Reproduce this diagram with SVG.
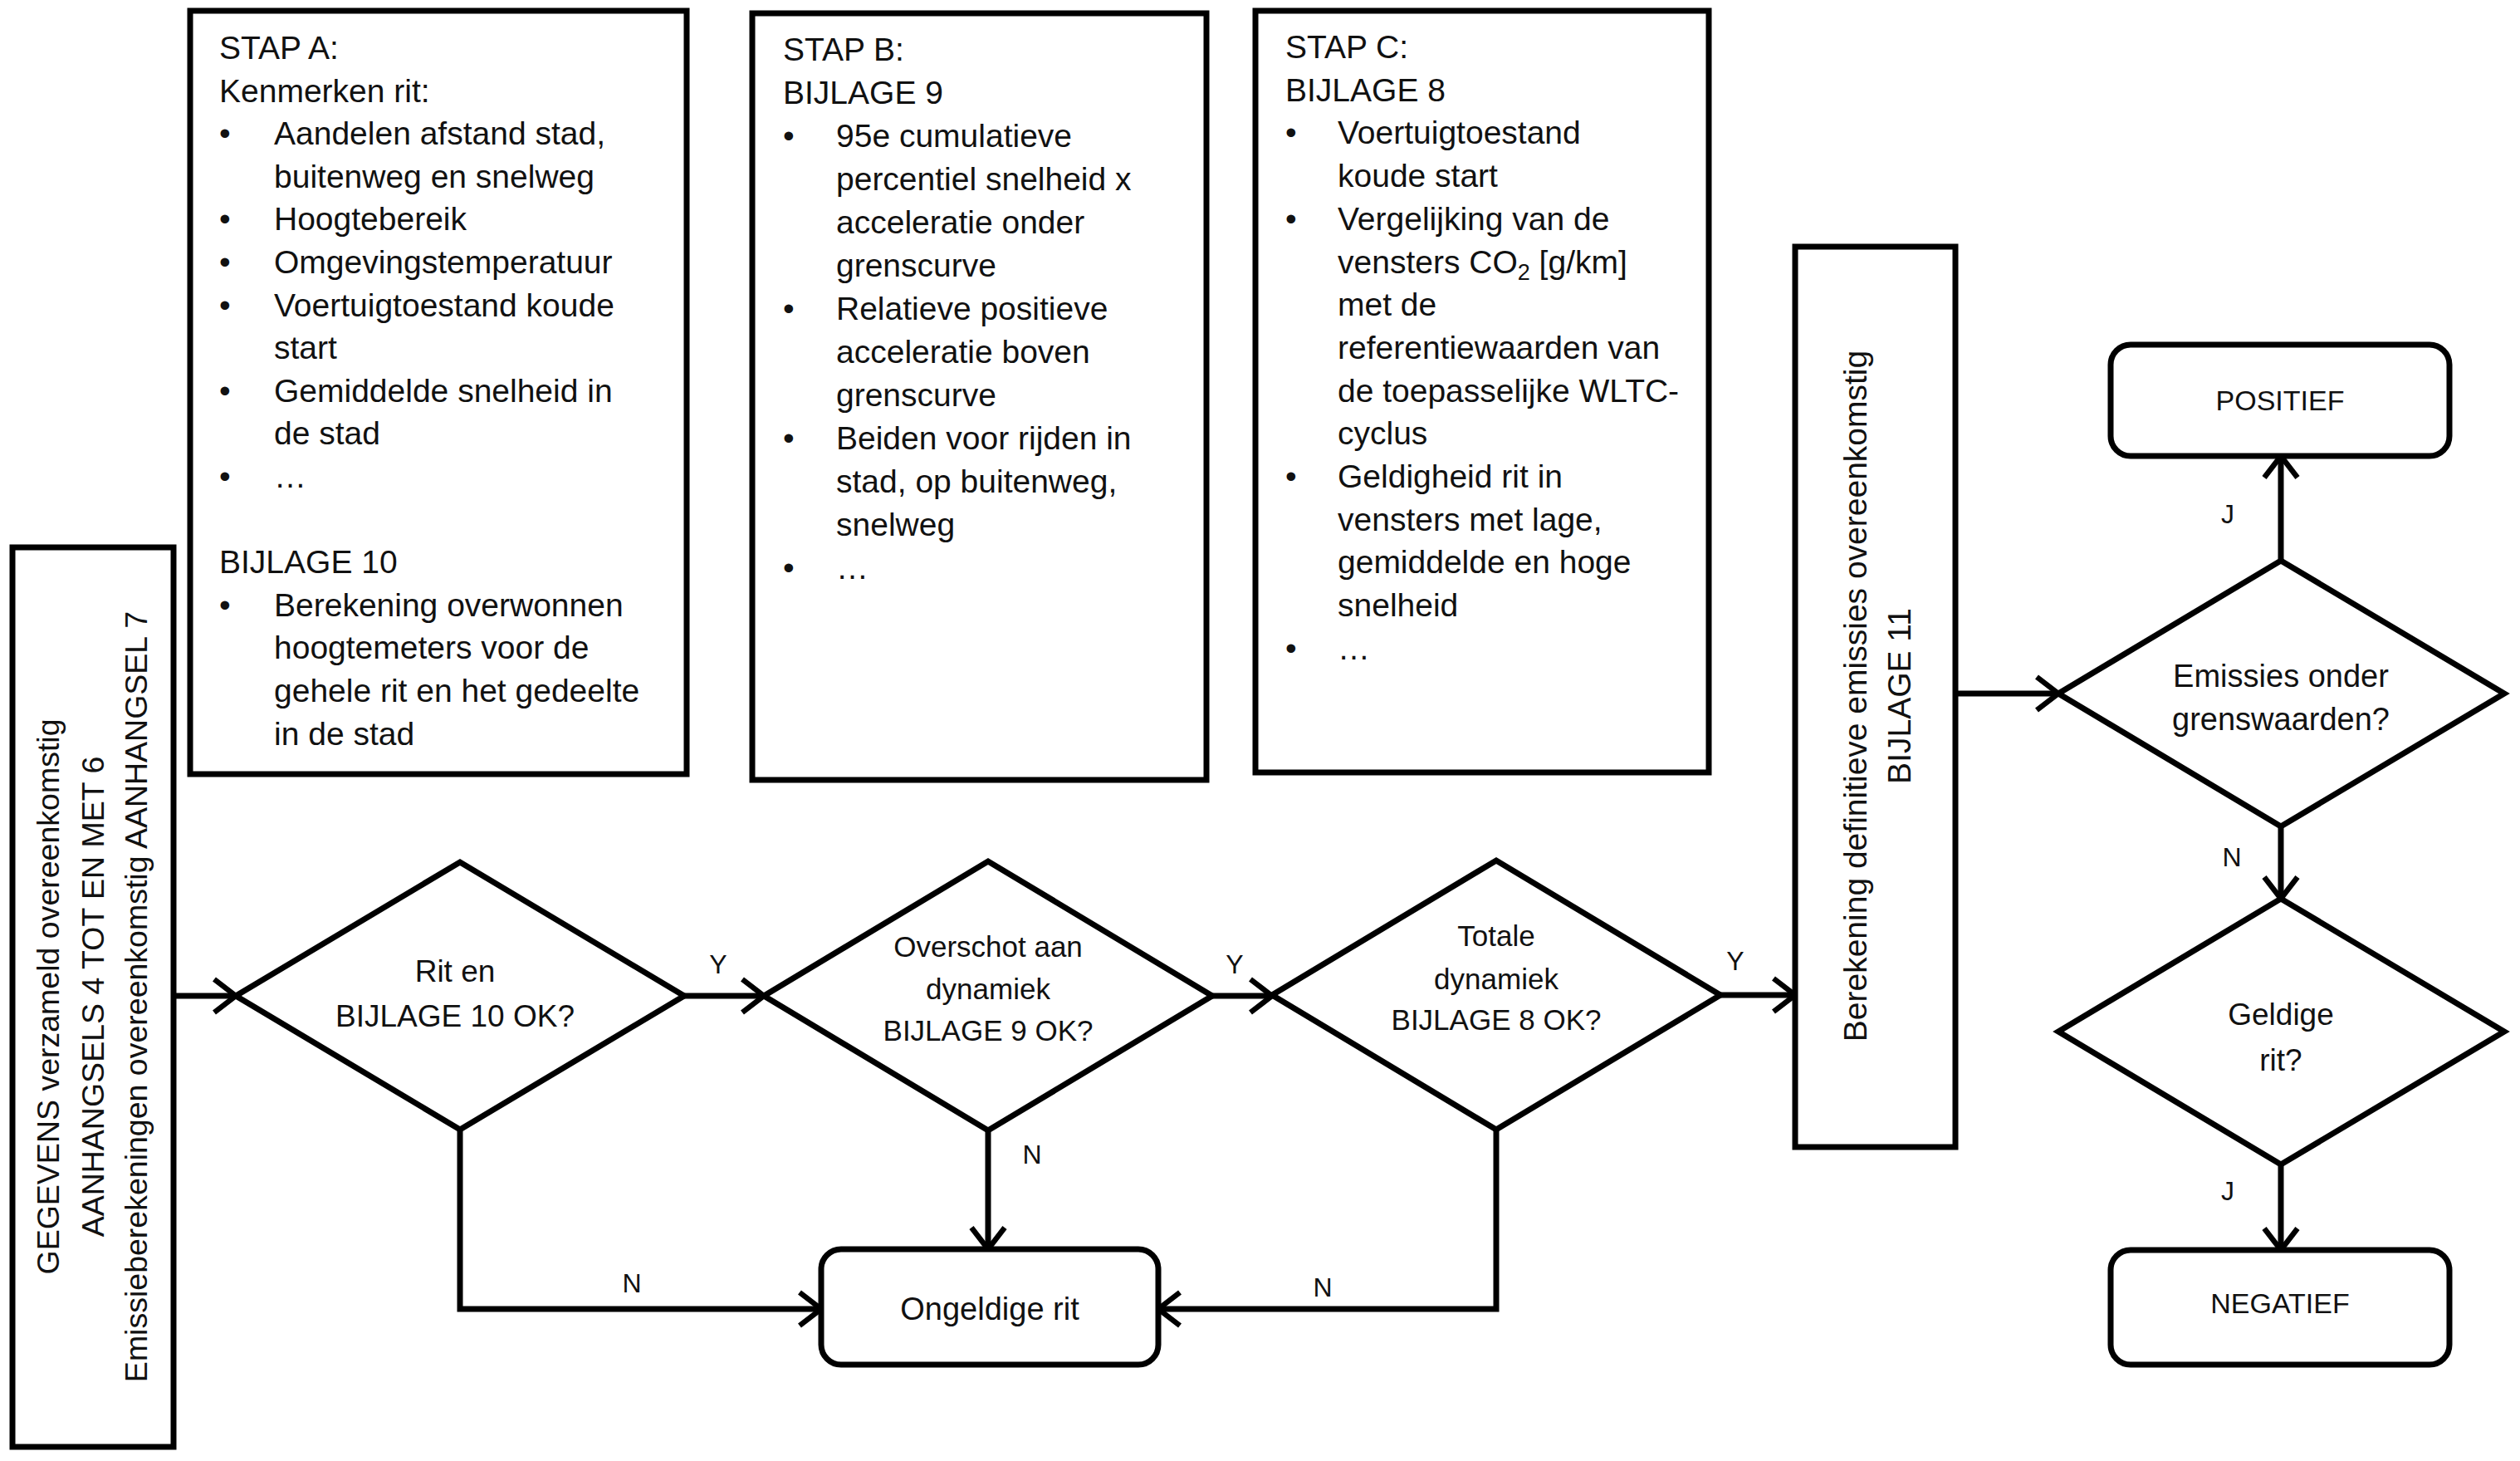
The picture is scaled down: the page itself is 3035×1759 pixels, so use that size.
<svg xmlns="http://www.w3.org/2000/svg" width="3035" height="1759" viewBox="0 0 3035 1759">
<defs>
<style>
.box{fill:#fff;stroke:#000;stroke-width:7}
.rbox{fill:#fff;stroke:#000;stroke-width:7}
.dia{fill:#fff;stroke:#000;stroke-width:7;stroke-linejoin:miter}
.con{fill:none;stroke:#000;stroke-width:7}
.t{font-family:"Liberation Sans",Arial,sans-serif;font-size:39px;fill:#111}
.c{text-anchor:middle}
.lbl{font-family:"Liberation Sans",Arial,sans-serif;font-size:32px;fill:#111;text-anchor:middle}
</style>
<marker id="arr" viewBox="0 0 32 46" refX="29" refY="23" markerWidth="32" markerHeight="46" markerUnits="userSpaceOnUse" orient="auto">
<path d="M3,3 L29,23 L3,43" fill="none" stroke="#000" stroke-width="6.5"/>
</marker>
</defs>
<rect width="3035" height="1759" fill="#fff"/>

<g id="stapA">
<rect class="box" x="229" y="13" width="598" height="919"/>
<text class="t">
<tspan x="264" y="71">STAP A:</tspan>
<tspan x="264" y="122.6">Kenmerken rit:</tspan>
<tspan x="264" y="174.2">•</tspan><tspan x="330" y="174.2">Aandelen afstand stad,</tspan>
<tspan x="330" y="225.8">buitenweg en snelweg</tspan>
<tspan x="264" y="277.4">•</tspan><tspan x="330" y="277.4">Hoogtebereik</tspan>
<tspan x="264" y="329">•</tspan><tspan x="330" y="329">Omgevingstemperatuur</tspan>
<tspan x="264" y="380.6">•</tspan><tspan x="330" y="380.6">Voertuigtoestand koude</tspan>
<tspan x="330" y="432.2">start</tspan>
<tspan x="264" y="483.8">•</tspan><tspan x="330" y="483.8">Gemiddelde snelheid in</tspan>
<tspan x="330" y="535.4">de stad</tspan>
<tspan x="264" y="587">•</tspan><tspan x="330" y="587">…</tspan>
<tspan x="264" y="690.2">BIJLAGE 10</tspan>
<tspan x="264" y="741.8">•</tspan><tspan x="330" y="741.8">Berekening overwonnen</tspan>
<tspan x="330" y="793.4">hoogtemeters voor de</tspan>
<tspan x="330" y="845">gehele rit en het gedeelte</tspan>
<tspan x="330" y="896.6">in de stad</tspan>
</text>
</g>

<g id="stapB">
<rect class="box" x="906" y="16" width="547" height="923"/>
<text class="t">
<tspan x="943" y="73">STAP B:</tspan>
<tspan x="943" y="125">BIJLAGE 9</tspan>
<tspan x="943" y="177">•</tspan><tspan x="1007" y="177">95e cumulatieve</tspan>
<tspan x="1007" y="229">percentiel snelheid x</tspan>
<tspan x="1007" y="281">acceleratie onder</tspan>
<tspan x="1007" y="333">grenscurve</tspan>
<tspan x="943" y="385">•</tspan><tspan x="1007" y="385">Relatieve positieve</tspan>
<tspan x="1007" y="437">acceleratie boven</tspan>
<tspan x="1007" y="489">grenscurve</tspan>
<tspan x="943" y="541">•</tspan><tspan x="1007" y="541">Beiden voor rijden in</tspan>
<tspan x="1007" y="593">stad, op buitenweg,</tspan>
<tspan x="1007" y="645">snelweg</tspan>
<tspan x="943" y="697">•</tspan><tspan x="1007" y="697">…</tspan>
</text>
</g>

<g id="stapC">
<rect class="box" x="1512" y="13" width="546" height="917"/>
<text class="t">
<tspan x="1548" y="70">STAP C:</tspan>
<tspan x="1548" y="121.7">BIJLAGE 8</tspan>
<tspan x="1548" y="173.4">•</tspan><tspan x="1611" y="173.4">Voertuigtoestand</tspan>
<tspan x="1611" y="225.1">koude start</tspan>
<tspan x="1548" y="276.8">•</tspan><tspan x="1611" y="276.8">Vergelijking van de</tspan>
<tspan x="1611" y="328.5">vensters CO<tspan font-size="27" dy="8">2</tspan><tspan dy="-8"> [g/km]</tspan></tspan>
<tspan x="1611" y="380.2">met de</tspan>
<tspan x="1611" y="431.9">referentiewaarden van</tspan>
<tspan x="1611" y="483.6">de toepasselijke WLTC-</tspan>
<tspan x="1611" y="535.3">cyclus</tspan>
<tspan x="1548" y="587">•</tspan><tspan x="1611" y="587">Geldigheid rit in</tspan>
<tspan x="1611" y="638.7">vensters met lage,</tspan>
<tspan x="1611" y="690.4">gemiddelde en hoge</tspan>
<tspan x="1611" y="742.1">snelheid</tspan>
<tspan x="1548" y="793.8">•</tspan><tspan x="1611" y="793.8">…</tspan>
</text>
</g>

<g id="gegevens">
<rect class="box" x="15" y="659" width="194" height="1083"/>
<text class="t c" transform="rotate(-90 71 1200)" x="71" y="1200" style="font-size:37.5px">GEGEVENS verzameld overeenkomstig</text>
<text class="t c" transform="rotate(-90 125 1200)" x="125" y="1200" style="font-size:37.5px">AANHANGSELS 4 TOT EN MET 6</text>
<text class="t c" transform="rotate(-90 177 1200)" x="177" y="1200" style="font-size:37.5px">Emissieberekeningen overeenkomstig AANHANGSEL 7</text>
</g>

<g id="d1">
<polygon class="dia" points="284,1199 554,1038 824,1199 554,1360"/>
<text class="t c" style="font-size:37px"><tspan x="548" y="1182">Rit en</tspan><tspan x="548" y="1236">BIJLAGE 10 OK?</tspan></text>
</g>

<g id="d2">
<polygon class="dia" points="920,1199 1190,1037 1460,1199 1190,1361"/>
<text class="t c" style="font-size:35px"><tspan x="1190" y="1152">Overschot aan</tspan><tspan x="1190" y="1203">dynamiek</tspan><tspan x="1190" y="1253">BIJLAGE 9 OK?</tspan></text>
</g>

<g id="d3">
<polygon class="dia" points="1532,1198 1802,1036 2072,1198 1802,1360"/>
<text class="t c" style="font-size:35px"><tspan x="1802" y="1139">Totale</tspan><tspan x="1802" y="1191">dynamiek</tspan><tspan x="1802" y="1240">BIJLAGE 8 OK?</tspan></text>
</g>

<g id="ongeldig">
<rect class="rbox" x="989" y="1504" width="406" height="139" rx="24"/>
<text class="t c" style="font-size:38px" x="1192" y="1589">Ongeldige rit</text>
</g>

<g id="berekening">
<rect class="box" x="2162" y="297" width="193" height="1084"/>
<text class="t c" transform="rotate(-90 2248 838)" x="2248" y="838">Berekening definitieve emissies overeenkomstig</text>
<text class="t c" transform="rotate(-90 2301 838)" x="2301" y="838">BIJLAGE 11</text>
</g>

<g id="emissies">
<polygon class="dia" points="2479,835 2747,675 3016,835 2747,995"/>
<text class="t c" style="font-size:38px"><tspan x="2747" y="827">Emissies onder</tspan><tspan x="2747" y="879">grenswaarden?</tspan></text>
</g>

<g id="geldig">
<polygon class="dia" points="2479,1242 2747,1082 3016,1242 2747,1402"/>
<text class="t c" style="font-size:37px"><tspan x="2747" y="1234">Geldige</tspan><tspan x="2747" y="1289">rit?</tspan></text>
</g>

<g id="positief">
<rect class="rbox" x="2542" y="415" width="408" height="134" rx="24"/>
<text class="t c" style="font-size:34px" x="2746" y="494">POSITIEF</text>
</g>

<g id="negatief">
<rect class="rbox" x="2542" y="1505" width="408" height="138" rx="24"/>
<text class="t c" style="font-size:34px" x="2746" y="1581">NEGATIEF</text>
</g>

<g id="connectors">
<line class="con" x1="209" y1="1199" x2="284" y2="1199" marker-end="url(#arr)"/>
<line class="con" x1="824" y1="1199" x2="920" y2="1199" marker-end="url(#arr)"/>
<line class="con" x1="1460" y1="1199" x2="1532" y2="1199" marker-end="url(#arr)"/>
<line class="con" x1="2072" y1="1198" x2="2162" y2="1198" marker-end="url(#arr)"/>
<line class="con" x1="2355" y1="835" x2="2479" y2="835" marker-end="url(#arr)"/>
<line class="con" x1="2747" y1="675" x2="2747" y2="549" marker-end="url(#arr)"/>
<line class="con" x1="2747" y1="995" x2="2747" y2="1082" marker-end="url(#arr)"/>
<line class="con" x1="2747" y1="1402" x2="2747" y2="1505" marker-end="url(#arr)"/>
<polyline class="con" points="554,1360 554,1576 989,1576" marker-end="url(#arr)"/>
<line class="con" x1="1190" y1="1361" x2="1190" y2="1504" marker-end="url(#arr)"/>
<polyline class="con" points="1802,1360 1802,1576 1395,1576" marker-end="url(#arr)"/>
<text class="lbl" x="865" y="1172">Y</text>
<text class="lbl" x="1487" y="1172">Y</text>
<text class="lbl" x="2090" y="1168">Y</text>
<text class="lbl" x="761" y="1556">N</text>
<text class="lbl" x="1243" y="1401">N</text>
<text class="lbl" x="1593" y="1561">N</text>
<text class="lbl" x="2683" y="630">J</text>
<text class="lbl" x="2688" y="1043">N</text>
<text class="lbl" x="2683" y="1445">J</text>
</g>
</svg>
